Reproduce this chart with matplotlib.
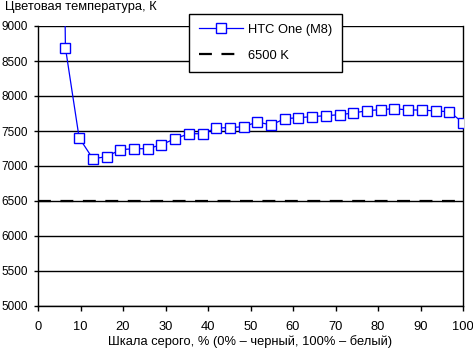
import matplotlib
matplotlib.use("Agg")
import matplotlib.pyplot as plt

plt.rcParams["font.family"] = ["Liberation Sans", "DejaVu Sans"]
plt.rcParams["font.size"] = 9.3

# gray level, % (31 steps) and measured color temperature, K
gray = [k * 100 / 31 for k in range(1, 32)]
temp_htc = [25000, 8690, 7404, 7104, 7133, 7233, 7247, 7247, 7304, 7390, 7461,
            7461, 7543, 7548, 7562, 7629, 7586, 7676, 7690, 7705, 7719, 7733,
            7757, 7790, 7805, 7819, 7800, 7800, 7786, 7776, 7619]
ref_x = [0, 100]
ref_temp = [6500, 6500]

fig = plt.figure(figsize=(4.73, 3.49), dpi=100)
ax = fig.add_axes([38 / 473, 1 - 306 / 349, 425 / 473, 280 / 349])

ax.set_xlim(0, 100)
ax.set_ylim(5000, 9000)
ax.set_yticks(range(5000, 9001, 500))
ax.set_xticks(range(0, 101, 10))
ax.grid(axis="y", color="black", lw=1.0)
ax.set_axisbelow(True)

ax.plot(gray, temp_htc, color="#0000ff", lw=0.9, marker="s", ms=7.3,
        mfc="white", mec="#0000ff", mew=1.0, label="HTC One (M8)", zorder=3)
ax.plot(ref_x, ref_temp, color="black", lw=1.6, dashes=(5.8, 4.3),
        label="6500 K", zorder=2)

for side in ["left", "right", "bottom"]:
    ax.spines[side].set_color("black")
    ax.spines[side].set_linewidth(1.0)
ax.spines["top"].set_visible(False)
ax.tick_params(direction="out", length=3, width=1, colors="black")
ax.tick_params(axis="x", pad=7, length=3.5)
ax.tick_params(axis="y", pad=4.5, labelsize=8.5)

ax.set_xlabel("Шкала серого, % (0% – черный, 100% – белый)", labelpad=2)
fig.text(5 / 473, 1 - 7 / 349, "Цветовая температура, К", va="center", ha="left")

leg = ax.legend(loc="upper left", bbox_to_anchor=(151 / 425, 1 + 12 / 280),
                frameon=True, fancybox=False, borderpad=0.75, labelspacing=1.1,
                handlelength=3.4, handletextpad=0.4, borderaxespad=0)
leg.get_frame().set_edgecolor("black")
leg.get_frame().set_linewidth(1.0)
leg.get_frame().set_alpha(1)

fig.savefig("out.png", dpi=100)
